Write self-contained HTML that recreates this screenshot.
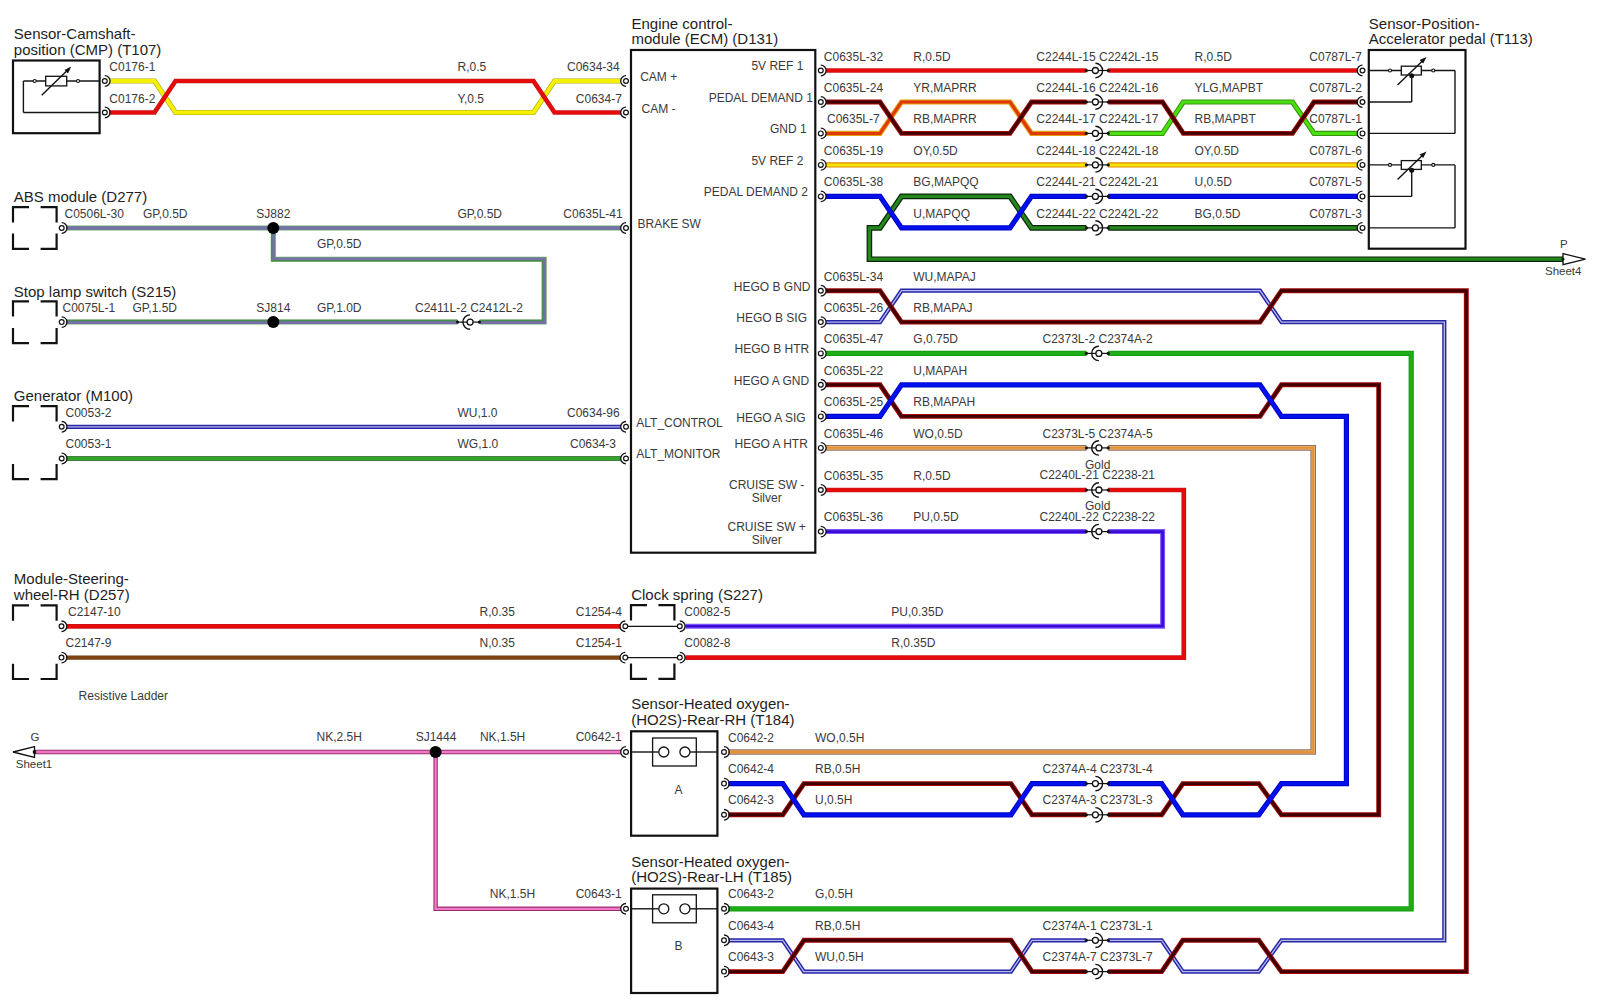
<!DOCTYPE html>
<html><head><meta charset="utf-8"><title>Wiring diagram</title>
<style>
html,body{margin:0;padding:0;background:#fff;}
body{width:1600px;height:1002px;overflow:hidden;}
svg{display:block;}
text{font-family:"Liberation Sans",sans-serif;}
</style></head>
<body>
<svg width="1600" height="1002" viewBox="0 0 1600 1002">
<rect width="1600" height="1002" fill="#fff"/>
<polyline points="109,81.0 154.5,81.0 175.5,112.5 533.5,112.5 554.5,81.0 621,81.0" fill="none" stroke="#a8a818" stroke-width="5.0" stroke-linejoin="miter" stroke-miterlimit="10"/>
<polyline points="109,81.0 154.5,81.0 175.5,112.5 533.5,112.5 554.5,81.0 621,81.0" fill="none" stroke="#f4f000" stroke-width="3.8" stroke-linejoin="miter" stroke-miterlimit="10"/>
<polyline points="109,112.5 154.5,112.5 175.5,81.0 533.5,81.0 554.5,112.5 621,112.5" fill="none" stroke="#c81418" stroke-width="4.7" stroke-linejoin="miter" stroke-miterlimit="10"/>
<polyline points="109,112.5 154.5,112.5 175.5,81.0 533.5,81.0 554.5,112.5 621,112.5" fill="none" stroke="#e80a0a" stroke-width="3.0" stroke-linejoin="miter" stroke-miterlimit="10"/>
<polyline points="66,228.0 621,228.0" fill="none" stroke="#6aaa6a" stroke-width="5.0" stroke-linejoin="miter" stroke-miterlimit="10"/>
<polyline points="66,228.0 621,228.0" fill="none" stroke="#7670aa" stroke-width="3.6" stroke-linejoin="miter" stroke-miterlimit="10"/>
<polyline points="273.3,228.0 273.3,259.2 544.2,259.2 544.2,322.1 479.6,322.1" fill="none" stroke="#6aaa6a" stroke-width="5.0" stroke-linejoin="miter" stroke-miterlimit="10"/>
<polyline points="273.3,228.0 273.3,259.2 544.2,259.2 544.2,322.1 479.6,322.1" fill="none" stroke="#7670aa" stroke-width="3.6" stroke-linejoin="miter" stroke-miterlimit="10"/>
<polyline points="271.70,228.00 271.70,260.80 542.60,260.80 542.60,320.50 479.60,320.50" fill="none" stroke="#4c8c4c" stroke-width="1.5" stroke-linejoin="miter"/>
<polyline points="66,322.1 457.6,322.1" fill="none" stroke="#6aaa6a" stroke-width="5.0" stroke-linejoin="miter" stroke-miterlimit="10"/>
<polyline points="66,322.1 457.6,322.1" fill="none" stroke="#7670aa" stroke-width="3.6" stroke-linejoin="miter" stroke-miterlimit="10"/>
<polyline points="457.60,320.50 66.00,320.50" fill="none" stroke="#4c8c4c" stroke-width="1.5" stroke-linejoin="miter"/>
<polyline points="66,426.8 621,426.8" fill="none" stroke="#2626a6" stroke-width="4.2" stroke-linejoin="miter" stroke-miterlimit="10"/>
<polyline points="66,426.8 621,426.8" fill="none" stroke="#b8b8ee" stroke-width="1.3" stroke-linejoin="miter" stroke-miterlimit="10"/>
<polyline points="66,458.5 621,458.5" fill="none" stroke="#4a7a4a" stroke-width="5.0" stroke-linejoin="miter" stroke-miterlimit="10"/>
<polyline points="66,458.5 621,458.5" fill="none" stroke="#30a626" stroke-width="3.2" stroke-linejoin="miter" stroke-miterlimit="10"/>
<polyline points="66,626.3 620,626.3" fill="none" stroke="#c81418" stroke-width="4.7" stroke-linejoin="miter" stroke-miterlimit="10"/>
<polyline points="66,626.3 620,626.3" fill="none" stroke="#e80a0a" stroke-width="3.0" stroke-linejoin="miter" stroke-miterlimit="10"/>
<polyline points="66,657.6 620,657.6" fill="none" stroke="#6e3a10" stroke-width="4.4" stroke-linejoin="miter" stroke-miterlimit="10"/>
<polyline points="66,657.6 620,657.6" fill="none" stroke="#7e4412" stroke-width="2.8" stroke-linejoin="miter" stroke-miterlimit="10"/>
<polyline points="685.5,626.3 1162.6,626.3 1162.6,531.6 1108.2,531.6" fill="none" stroke="#7c54f6" stroke-width="5.0" stroke-linejoin="miter" stroke-miterlimit="10"/>
<polyline points="685.5,626.3 1162.6,626.3 1162.6,531.6 1108.2,531.6" fill="none" stroke="#3a0ad8" stroke-width="2.6" stroke-linejoin="miter" stroke-miterlimit="10"/>
<polyline points="685.5,657.6 1183.8,657.6 1183.8,490.0 1108.2,490.0" fill="none" stroke="#c81418" stroke-width="4.7" stroke-linejoin="miter" stroke-miterlimit="10"/>
<polyline points="685.5,657.6 1183.8,657.6 1183.8,490.0 1108.2,490.0" fill="none" stroke="#e80a0a" stroke-width="3.0" stroke-linejoin="miter" stroke-miterlimit="10"/>
<polyline points="826,70.5 1086.4,70.5" fill="none" stroke="#c81418" stroke-width="4.7" stroke-linejoin="miter" stroke-miterlimit="10"/>
<polyline points="826,70.5 1086.4,70.5" fill="none" stroke="#e80a0a" stroke-width="3.0" stroke-linejoin="miter" stroke-miterlimit="10"/>
<polyline points="1108.2,70.5 1357.5,70.5" fill="none" stroke="#c81418" stroke-width="4.7" stroke-linejoin="miter" stroke-miterlimit="10"/>
<polyline points="1108.2,70.5 1357.5,70.5" fill="none" stroke="#e80a0a" stroke-width="3.0" stroke-linejoin="miter" stroke-miterlimit="10"/>
<polyline points="826,133.4 880.0,133.4 901.5,102.0 1010,102.0 1031.5,133.4 1086.4,133.4" fill="none" stroke="#e0a010" stroke-width="5.2" stroke-linejoin="miter" stroke-miterlimit="10"/>
<polyline points="826,133.4 880.0,133.4 901.5,102.0 1010,102.0 1031.5,133.4 1086.4,133.4" fill="none" stroke="#e03808" stroke-width="3.0" stroke-linejoin="miter" stroke-miterlimit="10"/>
<polyline points="1108.2,133.4 1162.5,133.4 1183.3,102.0 1292.5,102.0 1314,133.4 1357.5,133.4" fill="none" stroke="#3a9410" stroke-width="5.2" stroke-linejoin="miter" stroke-miterlimit="10"/>
<polyline points="1108.2,133.4 1162.5,133.4 1183.3,102.0 1292.5,102.0 1314,133.4 1357.5,133.4" fill="none" stroke="#48e010" stroke-width="3.0" stroke-linejoin="miter" stroke-miterlimit="10"/>
<polyline points="826,102.0 880.0,102.0 901.5,133.4 1010,133.4 1031.5,102.0 1086.4,102.0" fill="none" stroke="#a40808" stroke-width="4.9" stroke-linejoin="miter" stroke-miterlimit="10"/>
<polyline points="826,102.0 880.0,102.0 901.5,133.4 1010,133.4 1031.5,102.0 1086.4,102.0" fill="none" stroke="#400000" stroke-width="2.9" stroke-linejoin="miter" stroke-miterlimit="10"/>
<polyline points="1108.2,102.0 1162.5,102.0 1183.3,133.4 1292.5,133.4 1314,102.0 1357.5,102.0" fill="none" stroke="#a40808" stroke-width="4.9" stroke-linejoin="miter" stroke-miterlimit="10"/>
<polyline points="1108.2,102.0 1162.5,102.0 1183.3,133.4 1292.5,133.4 1314,102.0 1357.5,102.0" fill="none" stroke="#400000" stroke-width="2.9" stroke-linejoin="miter" stroke-miterlimit="10"/>
<polyline points="826,164.9 1086.4,164.9" fill="none" stroke="#e08a00" stroke-width="5.2" stroke-linejoin="miter" stroke-miterlimit="10"/>
<polyline points="826,164.9 1086.4,164.9" fill="none" stroke="#f8e400" stroke-width="3.0" stroke-linejoin="miter" stroke-miterlimit="10"/>
<polyline points="1108.2,164.9 1357.5,164.9" fill="none" stroke="#e08a00" stroke-width="5.2" stroke-linejoin="miter" stroke-miterlimit="10"/>
<polyline points="1108.2,164.9 1357.5,164.9" fill="none" stroke="#f8e400" stroke-width="3.0" stroke-linejoin="miter" stroke-miterlimit="10"/>
<polyline points="1564,259.2 869.4,259.2 869.4,227.9 880.0,227.9 901.5,196.4 1010,196.4 1031.5,227.9 1086.4,227.9" fill="none" stroke="#0c240c" stroke-width="5.6" stroke-linejoin="miter" stroke-miterlimit="10"/>
<polyline points="1564,259.2 869.4,259.2 869.4,227.9 880.0,227.9 901.5,196.4 1010,196.4 1031.5,227.9 1086.4,227.9" fill="none" stroke="#23881c" stroke-width="3.2" stroke-linejoin="miter" stroke-miterlimit="10"/>
<polyline points="1108.2,227.9 1357.5,227.9" fill="none" stroke="#0c240c" stroke-width="5.6" stroke-linejoin="miter" stroke-miterlimit="10"/>
<polyline points="1108.2,227.9 1357.5,227.9" fill="none" stroke="#23881c" stroke-width="3.2" stroke-linejoin="miter" stroke-miterlimit="10"/>
<polyline points="826,196.4 880.0,196.4 901.5,227.9 1010,227.9 1031.5,196.4 1086.4,196.4" fill="none" stroke="#0000c8" stroke-width="5.2" stroke-linejoin="miter" stroke-miterlimit="10"/>
<polyline points="826,196.4 880.0,196.4 901.5,227.9 1010,227.9 1031.5,196.4 1086.4,196.4" fill="none" stroke="#0010ec" stroke-width="3.4" stroke-linejoin="miter" stroke-miterlimit="10"/>
<polyline points="1108.2,196.4 1357.5,196.4" fill="none" stroke="#0000c8" stroke-width="5.2" stroke-linejoin="miter" stroke-miterlimit="10"/>
<polyline points="1108.2,196.4 1357.5,196.4" fill="none" stroke="#0010ec" stroke-width="3.4" stroke-linejoin="miter" stroke-miterlimit="10"/>
<polyline points="826,322.1 880.0,322.1 901.5,290.7 1260.0,290.7 1281.5,322.1 1444.3,322.1 1444.3,940.3 1281.4,940.3 1258.8,971.6 1182.8,971.6 1161.7,940.3 1108.2,940.3" fill="none" stroke="#2626a6" stroke-width="4.2" stroke-linejoin="miter" stroke-miterlimit="10"/>
<polyline points="826,322.1 880.0,322.1 901.5,290.7 1260.0,290.7 1281.5,322.1 1444.3,322.1 1444.3,940.3 1281.4,940.3 1258.8,971.6 1182.8,971.6 1161.7,940.3 1108.2,940.3" fill="none" stroke="#b8b8ee" stroke-width="1.3" stroke-linejoin="miter" stroke-miterlimit="10"/>
<polyline points="1086.4,940.3 1032,940.3 1011,971.6 803.9,971.6 782.8,940.3 728.5,940.3" fill="none" stroke="#2626a6" stroke-width="4.2" stroke-linejoin="miter" stroke-miterlimit="10"/>
<polyline points="1086.4,940.3 1032,940.3 1011,971.6 803.9,971.6 782.8,940.3 728.5,940.3" fill="none" stroke="#b8b8ee" stroke-width="1.3" stroke-linejoin="miter" stroke-miterlimit="10"/>
<polyline points="826,290.7 880.0,290.7 901.5,322.1 1260.0,322.1 1281.5,290.7 1466.3,290.7 1466.3,971.6 1281.4,971.6 1258.8,940.3 1182.8,940.3 1161.7,971.6 1108.2,971.6" fill="none" stroke="#a40808" stroke-width="4.9" stroke-linejoin="miter" stroke-miterlimit="10"/>
<polyline points="826,290.7 880.0,290.7 901.5,322.1 1260.0,322.1 1281.5,290.7 1466.3,290.7 1466.3,971.6 1281.4,971.6 1258.8,940.3 1182.8,940.3 1161.7,971.6 1108.2,971.6" fill="none" stroke="#400000" stroke-width="2.9" stroke-linejoin="miter" stroke-miterlimit="10"/>
<polyline points="1086.4,971.6 1032,971.6 1011,940.3 803.9,940.3 782.8,971.6 728.5,971.6" fill="none" stroke="#a40808" stroke-width="4.9" stroke-linejoin="miter" stroke-miterlimit="10"/>
<polyline points="1086.4,971.6 1032,971.6 1011,940.3 803.9,940.3 782.8,971.6 728.5,971.6" fill="none" stroke="#400000" stroke-width="2.9" stroke-linejoin="miter" stroke-miterlimit="10"/>
<polyline points="826,353.4 1086.4,353.4" fill="none" stroke="#149c14" stroke-width="5.2" stroke-linejoin="miter" stroke-miterlimit="10"/>
<polyline points="826,353.4 1086.4,353.4" fill="none" stroke="#1cae14" stroke-width="3.4" stroke-linejoin="miter" stroke-miterlimit="10"/>
<polyline points="1108.2,353.4 1411.2,353.4 1411.2,908.8 728.5,908.8" fill="none" stroke="#149c14" stroke-width="5.2" stroke-linejoin="miter" stroke-miterlimit="10"/>
<polyline points="1108.2,353.4 1411.2,353.4 1411.2,908.8 728.5,908.8" fill="none" stroke="#1cae14" stroke-width="3.4" stroke-linejoin="miter" stroke-miterlimit="10"/>
<polyline points="826,384.8 880.0,384.8 901.5,416.4 1260.0,416.4 1281.5,384.8 1378.7,384.8 1378.7,814.8 1281.4,814.8 1258.8,783.6 1182.8,783.6 1161.7,814.8 1108.2,814.8" fill="none" stroke="#a40808" stroke-width="4.9" stroke-linejoin="miter" stroke-miterlimit="10"/>
<polyline points="826,384.8 880.0,384.8 901.5,416.4 1260.0,416.4 1281.5,384.8 1378.7,384.8 1378.7,814.8 1281.4,814.8 1258.8,783.6 1182.8,783.6 1161.7,814.8 1108.2,814.8" fill="none" stroke="#400000" stroke-width="2.9" stroke-linejoin="miter" stroke-miterlimit="10"/>
<polyline points="1086.4,814.8 1032,814.8 1011,783.6 803.9,783.6 782.8,814.8 728.5,814.8" fill="none" stroke="#a40808" stroke-width="4.9" stroke-linejoin="miter" stroke-miterlimit="10"/>
<polyline points="1086.4,814.8 1032,814.8 1011,783.6 803.9,783.6 782.8,814.8 728.5,814.8" fill="none" stroke="#400000" stroke-width="2.9" stroke-linejoin="miter" stroke-miterlimit="10"/>
<polyline points="826,416.4 880.0,416.4 901.5,384.8 1260.0,384.8 1281.5,416.4 1346.4,416.4 1346.4,783.6 1281.4,783.6 1258.8,814.8 1182.8,814.8 1161.7,783.6 1108.2,783.6" fill="none" stroke="#0000c8" stroke-width="5.2" stroke-linejoin="miter" stroke-miterlimit="10"/>
<polyline points="826,416.4 880.0,416.4 901.5,384.8 1260.0,384.8 1281.5,416.4 1346.4,416.4 1346.4,783.6 1281.4,783.6 1258.8,814.8 1182.8,814.8 1161.7,783.6 1108.2,783.6" fill="none" stroke="#0010ec" stroke-width="3.4" stroke-linejoin="miter" stroke-miterlimit="10"/>
<polyline points="1086.4,783.6 1032,783.6 1011,814.8 803.9,814.8 782.8,783.6 728.5,783.6" fill="none" stroke="#0000c8" stroke-width="5.2" stroke-linejoin="miter" stroke-miterlimit="10"/>
<polyline points="1086.4,783.6 1032,783.6 1011,814.8 803.9,814.8 782.8,783.6 728.5,783.6" fill="none" stroke="#0010ec" stroke-width="3.4" stroke-linejoin="miter" stroke-miterlimit="10"/>
<polyline points="826,447.9 1086.4,447.9" fill="none" stroke="#8a7262" stroke-width="5.6" stroke-linejoin="miter" stroke-miterlimit="10"/>
<polyline points="826,447.9 1086.4,447.9" fill="none" stroke="#f0aa60" stroke-width="3.6" stroke-linejoin="miter" stroke-miterlimit="10"/>
<polyline points="826,447.9 1086.4,447.9" fill="none" stroke="#dc8a2c" stroke-width="1.4" stroke-linejoin="miter" stroke-miterlimit="10"/>
<polyline points="1108.2,447.9 1313.2,447.9 1313.2,752.0 728.5,752.0" fill="none" stroke="#8a7262" stroke-width="5.6" stroke-linejoin="miter" stroke-miterlimit="10"/>
<polyline points="1108.2,447.9 1313.2,447.9 1313.2,752.0 728.5,752.0" fill="none" stroke="#f0aa60" stroke-width="3.6" stroke-linejoin="miter" stroke-miterlimit="10"/>
<polyline points="1108.2,447.9 1313.2,447.9 1313.2,752.0 728.5,752.0" fill="none" stroke="#dc8a2c" stroke-width="1.4" stroke-linejoin="miter" stroke-miterlimit="10"/>
<polyline points="826,490.0 1086.4,490.0" fill="none" stroke="#c81418" stroke-width="4.7" stroke-linejoin="miter" stroke-miterlimit="10"/>
<polyline points="826,490.0 1086.4,490.0" fill="none" stroke="#e80a0a" stroke-width="3.0" stroke-linejoin="miter" stroke-miterlimit="10"/>
<polyline points="826,531.6 1086.4,531.6" fill="none" stroke="#7c54f6" stroke-width="5.0" stroke-linejoin="miter" stroke-miterlimit="10"/>
<polyline points="826,531.6 1086.4,531.6" fill="none" stroke="#3a0ad8" stroke-width="2.6" stroke-linejoin="miter" stroke-miterlimit="10"/>
<polyline points="35,752.0 621,752.0" fill="none" stroke="#98306c" stroke-width="4.4" stroke-linejoin="miter" stroke-miterlimit="10"/>
<polyline points="35,752.0 621,752.0" fill="none" stroke="#f07ac8" stroke-width="2.3" stroke-linejoin="miter" stroke-miterlimit="10"/>
<polyline points="435.6,752.0 435.6,908.8 621,908.8" fill="none" stroke="#98306c" stroke-width="4.4" stroke-linejoin="miter" stroke-miterlimit="10"/>
<polyline points="435.6,752.0 435.6,908.8 621,908.8" fill="none" stroke="#f07ac8" stroke-width="2.3" stroke-linejoin="miter" stroke-miterlimit="10"/>
<rect x="13" y="60.5" width="86.6" height="72.69999999999999" fill="none" stroke="#111" stroke-width="2.2"/>
<line x1="23.4" y1="81.0" x2="99" y2="81.0" stroke="#151515" stroke-width="1.4"/>
<line x1="23.4" y1="81.0" x2="23.4" y2="112.5" stroke="#151515" stroke-width="1.4"/>
<line x1="23.4" y1="112.5" x2="99" y2="112.5" stroke="#151515" stroke-width="1.4"/>
<rect x="45.7" y="76.3" width="21" height="9.6" fill="#fff" stroke="#111" stroke-width="1.3"/>
<circle cx="34.7" cy="81" r="1.5" fill="#fff" stroke="#111" stroke-width="1.1"/>
<circle cx="78" cy="81" r="1.5" fill="#fff" stroke="#111" stroke-width="1.1"/>
<line x1="41.7" y1="95.2" x2="69.5" y2="68.2" stroke="#111" stroke-width="1.4"/>
<path d="M71.2,66.5 L64.5,70 L68,73.6 Z" fill="#111"/>
<circle cx="104.8" cy="81.0" r="2.4" fill="#fff" stroke="#111" stroke-width="1.2"/>
<path d="M104.8,75.7 A5.3,5.3 0 0 1 104.8,86.3" fill="none" stroke="#111" stroke-width="1.3"/>
<circle cx="104.8" cy="112.5" r="2.4" fill="#fff" stroke="#111" stroke-width="1.2"/>
<path d="M104.8,107.2 A5.3,5.3 0 0 1 104.8,117.8" fill="none" stroke="#111" stroke-width="1.3"/>
<rect x="631" y="50" width="184.29999999999995" height="502.70000000000005" fill="none" stroke="#111" stroke-width="2.2"/>
<circle cx="626" cy="81.0" r="2.4" fill="#fff" stroke="#111" stroke-width="1.2"/>
<path d="M626,75.7 A5.3,5.3 0 0 0 626,86.3" fill="none" stroke="#111" stroke-width="1.3"/>
<circle cx="626" cy="112.5" r="2.4" fill="#fff" stroke="#111" stroke-width="1.2"/>
<path d="M626,107.2 A5.3,5.3 0 0 0 626,117.8" fill="none" stroke="#111" stroke-width="1.3"/>
<circle cx="626" cy="228.0" r="2.4" fill="#fff" stroke="#111" stroke-width="1.2"/>
<path d="M626,222.7 A5.3,5.3 0 0 0 626,233.3" fill="none" stroke="#111" stroke-width="1.3"/>
<circle cx="626" cy="426.8" r="2.4" fill="#fff" stroke="#111" stroke-width="1.2"/>
<path d="M626,421.5 A5.3,5.3 0 0 0 626,432.1" fill="none" stroke="#111" stroke-width="1.3"/>
<circle cx="626" cy="458.5" r="2.4" fill="#fff" stroke="#111" stroke-width="1.2"/>
<path d="M626,453.2 A5.3,5.3 0 0 0 626,463.8" fill="none" stroke="#111" stroke-width="1.3"/>
<circle cx="820.8" cy="70.5" r="2.4" fill="#fff" stroke="#111" stroke-width="1.2"/>
<path d="M820.8,65.2 A5.3,5.3 0 0 1 820.8,75.8" fill="none" stroke="#111" stroke-width="1.3"/>
<circle cx="820.8" cy="102.0" r="2.4" fill="#fff" stroke="#111" stroke-width="1.2"/>
<path d="M820.8,96.7 A5.3,5.3 0 0 1 820.8,107.3" fill="none" stroke="#111" stroke-width="1.3"/>
<circle cx="820.8" cy="133.4" r="2.4" fill="#fff" stroke="#111" stroke-width="1.2"/>
<path d="M820.8,128.1 A5.3,5.3 0 0 1 820.8,138.70000000000002" fill="none" stroke="#111" stroke-width="1.3"/>
<circle cx="820.8" cy="164.9" r="2.4" fill="#fff" stroke="#111" stroke-width="1.2"/>
<path d="M820.8,159.6 A5.3,5.3 0 0 1 820.8,170.20000000000002" fill="none" stroke="#111" stroke-width="1.3"/>
<circle cx="820.8" cy="196.4" r="2.4" fill="#fff" stroke="#111" stroke-width="1.2"/>
<path d="M820.8,191.1 A5.3,5.3 0 0 1 820.8,201.70000000000002" fill="none" stroke="#111" stroke-width="1.3"/>
<circle cx="820.8" cy="290.7" r="2.4" fill="#fff" stroke="#111" stroke-width="1.2"/>
<path d="M820.8,285.4 A5.3,5.3 0 0 1 820.8,296.0" fill="none" stroke="#111" stroke-width="1.3"/>
<circle cx="820.8" cy="322.1" r="2.4" fill="#fff" stroke="#111" stroke-width="1.2"/>
<path d="M820.8,316.8 A5.3,5.3 0 0 1 820.8,327.40000000000003" fill="none" stroke="#111" stroke-width="1.3"/>
<circle cx="820.8" cy="353.4" r="2.4" fill="#fff" stroke="#111" stroke-width="1.2"/>
<path d="M820.8,348.09999999999997 A5.3,5.3 0 0 1 820.8,358.7" fill="none" stroke="#111" stroke-width="1.3"/>
<circle cx="820.8" cy="384.8" r="2.4" fill="#fff" stroke="#111" stroke-width="1.2"/>
<path d="M820.8,379.5 A5.3,5.3 0 0 1 820.8,390.1" fill="none" stroke="#111" stroke-width="1.3"/>
<circle cx="820.8" cy="416.4" r="2.4" fill="#fff" stroke="#111" stroke-width="1.2"/>
<path d="M820.8,411.09999999999997 A5.3,5.3 0 0 1 820.8,421.7" fill="none" stroke="#111" stroke-width="1.3"/>
<circle cx="820.8" cy="447.9" r="2.4" fill="#fff" stroke="#111" stroke-width="1.2"/>
<path d="M820.8,442.59999999999997 A5.3,5.3 0 0 1 820.8,453.2" fill="none" stroke="#111" stroke-width="1.3"/>
<circle cx="820.8" cy="490.0" r="2.4" fill="#fff" stroke="#111" stroke-width="1.2"/>
<path d="M820.8,484.7 A5.3,5.3 0 0 1 820.8,495.3" fill="none" stroke="#111" stroke-width="1.3"/>
<circle cx="820.8" cy="531.6" r="2.4" fill="#fff" stroke="#111" stroke-width="1.2"/>
<path d="M820.8,526.3000000000001 A5.3,5.3 0 0 1 820.8,536.9" fill="none" stroke="#111" stroke-width="1.3"/>
<rect x="1368.8" y="50" width="96.70000000000005" height="198.7" fill="none" stroke="#111" stroke-width="2.2"/>
<circle cx="1362.5" cy="70.5" r="2.4" fill="#fff" stroke="#111" stroke-width="1.2"/>
<path d="M1362.5,65.2 A5.3,5.3 0 0 0 1362.5,75.8" fill="none" stroke="#111" stroke-width="1.3"/>
<circle cx="1362.5" cy="102.0" r="2.4" fill="#fff" stroke="#111" stroke-width="1.2"/>
<path d="M1362.5,96.7 A5.3,5.3 0 0 0 1362.5,107.3" fill="none" stroke="#111" stroke-width="1.3"/>
<circle cx="1362.5" cy="133.4" r="2.4" fill="#fff" stroke="#111" stroke-width="1.2"/>
<path d="M1362.5,128.1 A5.3,5.3 0 0 0 1362.5,138.70000000000002" fill="none" stroke="#111" stroke-width="1.3"/>
<circle cx="1362.5" cy="164.9" r="2.4" fill="#fff" stroke="#111" stroke-width="1.2"/>
<path d="M1362.5,159.6 A5.3,5.3 0 0 0 1362.5,170.20000000000002" fill="none" stroke="#111" stroke-width="1.3"/>
<circle cx="1362.5" cy="196.4" r="2.4" fill="#fff" stroke="#111" stroke-width="1.2"/>
<path d="M1362.5,191.1 A5.3,5.3 0 0 0 1362.5,201.70000000000002" fill="none" stroke="#111" stroke-width="1.3"/>
<circle cx="1362.5" cy="227.9" r="2.4" fill="#fff" stroke="#111" stroke-width="1.2"/>
<path d="M1362.5,222.6 A5.3,5.3 0 0 0 1362.5,233.20000000000002" fill="none" stroke="#111" stroke-width="1.3"/>
<line x1="1369" y1="70.5" x2="1455" y2="70.5" stroke="#151515" stroke-width="1.4"/>
<line x1="1455" y1="70.5" x2="1455" y2="133.4" stroke="#151515" stroke-width="1.4"/>
<line x1="1369" y1="133.4" x2="1455" y2="133.4" stroke="#151515" stroke-width="1.4"/>
<line x1="1411.7" y1="75.7" x2="1411.7" y2="102.0" stroke="#151515" stroke-width="1.4"/>
<line x1="1369" y1="102.0" x2="1411.7" y2="102.0" stroke="#151515" stroke-width="1.4"/>
<rect x="1401.3" y="66.2" width="20" height="8.8" fill="#fff" stroke="#111" stroke-width="1.3"/>
<circle cx="1390" cy="70.5" r="1.5" fill="#fff" stroke="#111" stroke-width="1.1"/>
<circle cx="1433.3" cy="70.5" r="1.5" fill="#fff" stroke="#111" stroke-width="1.1"/>
<circle cx="1411.7" cy="75.8" r="2.5" fill="#111"/>
<line x1="1397.5" y1="85.0" x2="1424.5" y2="59.0" stroke="#111" stroke-width="1.4"/>
<path d="M1426.5,57.0 L1419.6,60.0 L1423.2,63.5 Z" fill="#111"/>
<line x1="1369" y1="164.9" x2="1455" y2="164.9" stroke="#151515" stroke-width="1.4"/>
<line x1="1455" y1="164.9" x2="1455" y2="227.9" stroke="#151515" stroke-width="1.4"/>
<line x1="1369" y1="227.9" x2="1455" y2="227.9" stroke="#151515" stroke-width="1.4"/>
<line x1="1411.7" y1="170.1" x2="1411.7" y2="196.4" stroke="#151515" stroke-width="1.4"/>
<line x1="1369" y1="196.4" x2="1411.7" y2="196.4" stroke="#151515" stroke-width="1.4"/>
<rect x="1401.3" y="160.6" width="20" height="8.8" fill="#fff" stroke="#111" stroke-width="1.3"/>
<circle cx="1390" cy="164.9" r="1.5" fill="#fff" stroke="#111" stroke-width="1.1"/>
<circle cx="1433.3" cy="164.9" r="1.5" fill="#fff" stroke="#111" stroke-width="1.1"/>
<circle cx="1411.7" cy="170.20000000000002" r="2.5" fill="#111"/>
<line x1="1397.5" y1="179.4" x2="1424.5" y2="153.4" stroke="#111" stroke-width="1.4"/>
<path d="M1426.5,151.4 L1419.6,154.4 L1423.2,157.9 Z" fill="#111"/>
<path d="M29,207.2 L13,207.2 L13,222.5 M40.6,207.2 L56.6,207.2 L56.6,222.5 M29,248.8 L13,248.8 L13,233.5 M40.6,248.8 L56.6,248.8 L56.6,233.5" fill="none" stroke="#111" stroke-width="2.2"/>
<circle cx="61.7" cy="228.0" r="2.4" fill="#fff" stroke="#111" stroke-width="1.2"/>
<path d="M61.7,222.7 A5.3,5.3 0 0 1 61.7,233.3" fill="none" stroke="#111" stroke-width="1.3"/>
<path d="M29,301.3 L13,301.3 L13,316.6 M40.6,301.3 L56.6,301.3 L56.6,316.6 M29,343.2 L13,343.2 L13,327.9 M40.6,343.2 L56.6,343.2 L56.6,327.9" fill="none" stroke="#111" stroke-width="2.2"/>
<circle cx="61.7" cy="322.1" r="2.4" fill="#fff" stroke="#111" stroke-width="1.2"/>
<path d="M61.7,316.8 A5.3,5.3 0 0 1 61.7,327.40000000000003" fill="none" stroke="#111" stroke-width="1.3"/>
<path d="M29,406.2 L13,406.2 L13,421.5 M40.6,406.2 L56.6,406.2 L56.6,421.5 M29,479.2 L13,479.2 L13,463.9 M40.6,479.2 L56.6,479.2 L56.6,463.9" fill="none" stroke="#111" stroke-width="2.2"/>
<circle cx="61.7" cy="426.8" r="2.4" fill="#fff" stroke="#111" stroke-width="1.2"/>
<path d="M61.7,421.5 A5.3,5.3 0 0 1 61.7,432.1" fill="none" stroke="#111" stroke-width="1.3"/>
<circle cx="61.7" cy="458.5" r="2.4" fill="#fff" stroke="#111" stroke-width="1.2"/>
<path d="M61.7,453.2 A5.3,5.3 0 0 1 61.7,463.8" fill="none" stroke="#111" stroke-width="1.3"/>
<path d="M29,605.4 L13,605.4 L13,620.6999999999999 M40.6,605.4 L56.6,605.4 L56.6,620.6999999999999 M29,679 L13,679 L13,663.7 M40.6,679 L56.6,679 L56.6,663.7" fill="none" stroke="#111" stroke-width="2.2"/>
<circle cx="61.5" cy="626.3" r="2.4" fill="#fff" stroke="#111" stroke-width="1.2"/>
<path d="M61.5,621.0 A5.3,5.3 0 0 1 61.5,631.5999999999999" fill="none" stroke="#111" stroke-width="1.3"/>
<circle cx="61.5" cy="657.6" r="2.4" fill="#fff" stroke="#111" stroke-width="1.2"/>
<path d="M61.5,652.3000000000001 A5.3,5.3 0 0 1 61.5,662.9" fill="none" stroke="#111" stroke-width="1.3"/>
<path d="M647,605.2 L631,605.2 L631,620.5 M658.4,605.2 L674.4,605.2 L674.4,620.5 M647,678.8 L631,678.8 L631,663.5 M658.4,678.8 L674.4,678.8 L674.4,663.5" fill="none" stroke="#111" stroke-width="2.2"/>
<line x1="627.5" y1="626.3" x2="678.5" y2="626.3" stroke="#151515" stroke-width="1.2"/>
<circle cx="625.3" cy="626.3" r="2.4" fill="#fff" stroke="#111" stroke-width="1.2"/>
<path d="M625.3,621.0 A5.3,5.3 0 0 0 625.3,631.5999999999999" fill="none" stroke="#111" stroke-width="1.3"/>
<circle cx="679.8" cy="626.3" r="2.4" fill="#fff" stroke="#111" stroke-width="1.2"/>
<path d="M679.8,621.0 A5.3,5.3 0 0 1 679.8,631.5999999999999" fill="none" stroke="#111" stroke-width="1.3"/>
<line x1="627.5" y1="657.6" x2="678.5" y2="657.6" stroke="#151515" stroke-width="1.2"/>
<circle cx="625.3" cy="657.6" r="2.4" fill="#fff" stroke="#111" stroke-width="1.2"/>
<path d="M625.3,652.3000000000001 A5.3,5.3 0 0 0 625.3,662.9" fill="none" stroke="#111" stroke-width="1.3"/>
<circle cx="679.8" cy="657.6" r="2.4" fill="#fff" stroke="#111" stroke-width="1.2"/>
<path d="M679.8,652.3000000000001 A5.3,5.3 0 0 1 679.8,662.9" fill="none" stroke="#111" stroke-width="1.3"/>
<circle cx="273.3" cy="228.0" r="6.0" fill="#000"/>
<circle cx="273.3" cy="322.1" r="6.0" fill="#000"/>
<circle cx="435.6" cy="752.0" r="6.0" fill="#000"/>
<line x1="1086.4" y1="70.5" x2="1108.2" y2="70.5" stroke="#111" stroke-width="1.2"/>
<circle cx="1086.4" cy="70.5" r="1.6" fill="#111"/>
<circle cx="1108.2" cy="70.5" r="1.6" fill="#111"/>
<circle cx="1095.4" cy="70.5" r="3.0" fill="#fff" stroke="#111" stroke-width="1.3"/>
<path d="M1095.4,63.3 A7.2,7.2 0 0 1 1095.4,77.7" fill="none" stroke="#111" stroke-width="1.4"/>
<line x1="1086.4" y1="102.0" x2="1108.2" y2="102.0" stroke="#111" stroke-width="1.2"/>
<circle cx="1086.4" cy="102.0" r="1.6" fill="#111"/>
<circle cx="1108.2" cy="102.0" r="1.6" fill="#111"/>
<circle cx="1095.4" cy="102.0" r="3.0" fill="#fff" stroke="#111" stroke-width="1.3"/>
<path d="M1095.4,94.8 A7.2,7.2 0 0 1 1095.4,109.2" fill="none" stroke="#111" stroke-width="1.4"/>
<line x1="1086.4" y1="133.4" x2="1108.2" y2="133.4" stroke="#111" stroke-width="1.2"/>
<circle cx="1086.4" cy="133.4" r="1.6" fill="#111"/>
<circle cx="1108.2" cy="133.4" r="1.6" fill="#111"/>
<circle cx="1095.4" cy="133.4" r="3.0" fill="#fff" stroke="#111" stroke-width="1.3"/>
<path d="M1095.4,126.2 A7.2,7.2 0 0 1 1095.4,140.6" fill="none" stroke="#111" stroke-width="1.4"/>
<line x1="1086.4" y1="164.9" x2="1108.2" y2="164.9" stroke="#111" stroke-width="1.2"/>
<circle cx="1086.4" cy="164.9" r="1.6" fill="#111"/>
<circle cx="1108.2" cy="164.9" r="1.6" fill="#111"/>
<circle cx="1095.4" cy="164.9" r="3.0" fill="#fff" stroke="#111" stroke-width="1.3"/>
<path d="M1095.4,157.70000000000002 A7.2,7.2 0 0 1 1095.4,172.1" fill="none" stroke="#111" stroke-width="1.4"/>
<line x1="1086.4" y1="196.4" x2="1108.2" y2="196.4" stroke="#111" stroke-width="1.2"/>
<circle cx="1086.4" cy="196.4" r="1.6" fill="#111"/>
<circle cx="1108.2" cy="196.4" r="1.6" fill="#111"/>
<circle cx="1095.4" cy="196.4" r="3.0" fill="#fff" stroke="#111" stroke-width="1.3"/>
<path d="M1095.4,189.20000000000002 A7.2,7.2 0 0 1 1095.4,203.6" fill="none" stroke="#111" stroke-width="1.4"/>
<line x1="1086.4" y1="227.9" x2="1108.2" y2="227.9" stroke="#111" stroke-width="1.2"/>
<circle cx="1086.4" cy="227.9" r="1.6" fill="#111"/>
<circle cx="1108.2" cy="227.9" r="1.6" fill="#111"/>
<circle cx="1095.4" cy="227.9" r="3.0" fill="#fff" stroke="#111" stroke-width="1.3"/>
<path d="M1095.4,220.70000000000002 A7.2,7.2 0 0 1 1095.4,235.1" fill="none" stroke="#111" stroke-width="1.4"/>
<line x1="457.6" y1="322.1" x2="479.40000000000003" y2="322.1" stroke="#111" stroke-width="1.2"/>
<circle cx="457.6" cy="322.1" r="1.6" fill="#111"/>
<circle cx="479.40000000000003" cy="322.1" r="1.6" fill="#111"/>
<circle cx="470.1" cy="322.1" r="3.0" fill="#fff" stroke="#111" stroke-width="1.3"/>
<path d="M470.1,314.90000000000003 A7.2,7.2 0 0 0 470.1,329.3" fill="none" stroke="#111" stroke-width="1.4"/>
<line x1="1086.4" y1="353.4" x2="1108.2" y2="353.4" stroke="#111" stroke-width="1.2"/>
<circle cx="1086.4" cy="353.4" r="1.6" fill="#111"/>
<circle cx="1108.2" cy="353.4" r="1.6" fill="#111"/>
<circle cx="1098.9" cy="353.4" r="3.0" fill="#fff" stroke="#111" stroke-width="1.3"/>
<path d="M1098.9,346.2 A7.2,7.2 0 0 0 1098.9,360.59999999999997" fill="none" stroke="#111" stroke-width="1.4"/>
<line x1="1086.4" y1="447.9" x2="1108.2" y2="447.9" stroke="#111" stroke-width="1.2"/>
<circle cx="1086.4" cy="447.9" r="1.6" fill="#111"/>
<circle cx="1108.2" cy="447.9" r="1.6" fill="#111"/>
<circle cx="1098.9" cy="447.9" r="3.0" fill="#fff" stroke="#111" stroke-width="1.3"/>
<path d="M1098.9,440.7 A7.2,7.2 0 0 0 1098.9,455.09999999999997" fill="none" stroke="#111" stroke-width="1.4"/>
<line x1="1086.4" y1="490.0" x2="1108.2" y2="490.0" stroke="#111" stroke-width="1.2"/>
<circle cx="1086.4" cy="490.0" r="1.6" fill="#111"/>
<circle cx="1108.2" cy="490.0" r="1.6" fill="#111"/>
<circle cx="1098.9" cy="490.0" r="3.0" fill="#fff" stroke="#111" stroke-width="1.3"/>
<path d="M1098.9,482.8 A7.2,7.2 0 0 0 1098.9,497.2" fill="none" stroke="#111" stroke-width="1.4"/>
<line x1="1086.4" y1="531.6" x2="1108.2" y2="531.6" stroke="#111" stroke-width="1.2"/>
<circle cx="1086.4" cy="531.6" r="1.6" fill="#111"/>
<circle cx="1108.2" cy="531.6" r="1.6" fill="#111"/>
<circle cx="1098.9" cy="531.6" r="3.0" fill="#fff" stroke="#111" stroke-width="1.3"/>
<path d="M1098.9,524.4 A7.2,7.2 0 0 0 1098.9,538.8000000000001" fill="none" stroke="#111" stroke-width="1.4"/>
<line x1="1086.4" y1="783.6" x2="1108.2" y2="783.6" stroke="#111" stroke-width="1.2"/>
<circle cx="1086.4" cy="783.6" r="1.6" fill="#111"/>
<circle cx="1108.2" cy="783.6" r="1.6" fill="#111"/>
<circle cx="1095.4" cy="783.6" r="3.0" fill="#fff" stroke="#111" stroke-width="1.3"/>
<path d="M1095.4,776.4 A7.2,7.2 0 0 1 1095.4,790.8000000000001" fill="none" stroke="#111" stroke-width="1.4"/>
<line x1="1086.4" y1="814.8" x2="1108.2" y2="814.8" stroke="#111" stroke-width="1.2"/>
<circle cx="1086.4" cy="814.8" r="1.6" fill="#111"/>
<circle cx="1108.2" cy="814.8" r="1.6" fill="#111"/>
<circle cx="1095.4" cy="814.8" r="3.0" fill="#fff" stroke="#111" stroke-width="1.3"/>
<path d="M1095.4,807.5999999999999 A7.2,7.2 0 0 1 1095.4,822.0" fill="none" stroke="#111" stroke-width="1.4"/>
<line x1="1086.4" y1="940.3" x2="1108.2" y2="940.3" stroke="#111" stroke-width="1.2"/>
<circle cx="1086.4" cy="940.3" r="1.6" fill="#111"/>
<circle cx="1108.2" cy="940.3" r="1.6" fill="#111"/>
<circle cx="1095.4" cy="940.3" r="3.0" fill="#fff" stroke="#111" stroke-width="1.3"/>
<path d="M1095.4,933.0999999999999 A7.2,7.2 0 0 1 1095.4,947.5" fill="none" stroke="#111" stroke-width="1.4"/>
<line x1="1086.4" y1="971.6" x2="1108.2" y2="971.6" stroke="#111" stroke-width="1.2"/>
<circle cx="1086.4" cy="971.6" r="1.6" fill="#111"/>
<circle cx="1108.2" cy="971.6" r="1.6" fill="#111"/>
<circle cx="1095.4" cy="971.6" r="3.0" fill="#fff" stroke="#111" stroke-width="1.3"/>
<path d="M1095.4,964.4 A7.2,7.2 0 0 1 1095.4,978.8000000000001" fill="none" stroke="#111" stroke-width="1.4"/>
<rect x="631.1" y="731.3" width="86.29999999999995" height="104.39999999999998" fill="none" stroke="#111" stroke-width="2.2"/>
<line x1="631.2" y1="752.0" x2="658.6" y2="752.0" stroke="#151515" stroke-width="1.4"/>
<line x1="690.1" y1="752.0" x2="717.4" y2="752.0" stroke="#151515" stroke-width="1.4"/>
<rect x="652.6" y="738.0" width="43.7" height="28" fill="none" stroke="#111" stroke-width="1.3"/>
<circle cx="663.8" cy="752.0" r="5" fill="#fff" stroke="#111" stroke-width="1.3"/>
<circle cx="684.9" cy="752.0" r="5" fill="#fff" stroke="#111" stroke-width="1.3"/>
<text x="678.4" y="793.6" font-size="12" fill="#3a3a3a" text-anchor="middle">A</text>
<circle cx="626" cy="752.0" r="2.4" fill="#fff" stroke="#111" stroke-width="1.2"/>
<path d="M626,746.7 A5.3,5.3 0 0 0 626,757.3" fill="none" stroke="#111" stroke-width="1.3"/>
<circle cx="724" cy="752.0" r="2.4" fill="#fff" stroke="#111" stroke-width="1.2"/>
<path d="M724,746.7 A5.3,5.3 0 0 1 724,757.3" fill="none" stroke="#111" stroke-width="1.3"/>
<circle cx="724" cy="783.6" r="2.4" fill="#fff" stroke="#111" stroke-width="1.2"/>
<path d="M724,778.3000000000001 A5.3,5.3 0 0 1 724,788.9" fill="none" stroke="#111" stroke-width="1.3"/>
<circle cx="724" cy="814.8" r="2.4" fill="#fff" stroke="#111" stroke-width="1.2"/>
<path d="M724,809.5 A5.3,5.3 0 0 1 724,820.0999999999999" fill="none" stroke="#111" stroke-width="1.3"/>
<rect x="631.1" y="888.6" width="86.29999999999995" height="104.39999999999998" fill="none" stroke="#111" stroke-width="2.2"/>
<line x1="631.2" y1="908.8" x2="658.6" y2="908.8" stroke="#151515" stroke-width="1.4"/>
<line x1="690.1" y1="908.8" x2="717.4" y2="908.8" stroke="#151515" stroke-width="1.4"/>
<rect x="652.6" y="894.8" width="43.7" height="28" fill="none" stroke="#111" stroke-width="1.3"/>
<circle cx="663.8" cy="908.8" r="5" fill="#fff" stroke="#111" stroke-width="1.3"/>
<circle cx="684.9" cy="908.8" r="5" fill="#fff" stroke="#111" stroke-width="1.3"/>
<text x="678.4" y="950.4" font-size="12" fill="#3a3a3a" text-anchor="middle">B</text>
<circle cx="626" cy="908.8" r="2.4" fill="#fff" stroke="#111" stroke-width="1.2"/>
<path d="M626,903.5 A5.3,5.3 0 0 0 626,914.0999999999999" fill="none" stroke="#111" stroke-width="1.3"/>
<circle cx="724" cy="908.8" r="2.4" fill="#fff" stroke="#111" stroke-width="1.2"/>
<path d="M724,903.5 A5.3,5.3 0 0 1 724,914.0999999999999" fill="none" stroke="#111" stroke-width="1.3"/>
<circle cx="724" cy="940.3" r="2.4" fill="#fff" stroke="#111" stroke-width="1.2"/>
<path d="M724,935.0 A5.3,5.3 0 0 1 724,945.5999999999999" fill="none" stroke="#111" stroke-width="1.3"/>
<circle cx="724" cy="971.6" r="2.4" fill="#fff" stroke="#111" stroke-width="1.2"/>
<path d="M724,966.3000000000001 A5.3,5.3 0 0 1 724,976.9" fill="none" stroke="#111" stroke-width="1.3"/>
<path d="M34.5,746.6 L13,752.0 L34.5,757.4 Z" fill="#fff" stroke="#111" stroke-width="1.3"/>
<circle cx="34.5" cy="752.0" r="1.9" fill="#111"/>
<path d="M1563,253.7 L1585.5,259.2 L1563,264.7 Z" fill="#fff" stroke="#111" stroke-width="1.3"/>
<circle cx="1563" cy="259.2" r="1.4" fill="#111"/>
<text x="13.8" y="39.0" font-size="15" fill="#1e1e1e">Sensor-Camshaft-</text>
<text x="13.8" y="54.5" font-size="15" fill="#1e1e1e">position (CMP) (T107)</text>
<text x="631.5" y="28.5" font-size="15" fill="#1e1e1e">Engine control-</text>
<text x="631.5" y="44.0" font-size="15" fill="#1e1e1e">module (ECM) (D131)</text>
<text x="1368.8" y="28.5" font-size="15" fill="#1e1e1e">Sensor-Position-</text>
<text x="1368.8" y="44.0" font-size="15" fill="#1e1e1e">Accelerator pedal (T113)</text>
<text x="13.8" y="201.5" font-size="15" fill="#1e1e1e">ABS module (D277)</text>
<text x="13.8" y="296.5" font-size="15" fill="#1e1e1e">Stop lamp switch (S215)</text>
<text x="13.8" y="400.5" font-size="15" fill="#1e1e1e">Generator (M100)</text>
<text x="13.8" y="584.0" font-size="15" fill="#1e1e1e">Module-Steering-</text>
<text x="13.8" y="599.5" font-size="15" fill="#1e1e1e">wheel-RH (D257)</text>
<text x="631.2" y="600.0" font-size="15" fill="#1e1e1e">Clock spring (S227)</text>
<text x="631.2" y="709.0" font-size="15" fill="#1e1e1e">Sensor-Heated oxygen-</text>
<text x="631.2" y="724.5" font-size="15" fill="#1e1e1e">(HO2S)-Rear-RH (T184)</text>
<text x="631.2" y="866.7" font-size="15" fill="#1e1e1e">Sensor-Heated oxygen-</text>
<text x="631.2" y="882.2" font-size="15" fill="#1e1e1e">(HO2S)-Rear-LH (T185)</text>
<text x="109.3" y="71.3" font-size="12" fill="#3a3a3a">C0176-1</text>
<text x="109.3" y="102.6" font-size="12" fill="#3a3a3a">C0176-2</text>
<text x="457.5" y="71.3" font-size="12" fill="#3a3a3a">R,0.5</text>
<text x="457.5" y="102.6" font-size="12" fill="#3a3a3a">Y,0.5</text>
<text x="567" y="71.3" font-size="12" fill="#3a3a3a">C0634-34</text>
<text x="575.8" y="102.6" font-size="12" fill="#3a3a3a">C0634-7</text>
<text x="640.2" y="81" font-size="12" fill="#3a3a3a">CAM +</text>
<text x="641.5" y="112.5" font-size="12" fill="#3a3a3a">CAM -</text>
<text x="64.5" y="217.7" font-size="12" fill="#3a3a3a">C0506L-30</text>
<text x="143" y="217.7" font-size="12" fill="#3a3a3a">GP,0.5D</text>
<text x="256.3" y="217.7" font-size="12" fill="#3a3a3a">SJ882</text>
<text x="457.5" y="217.7" font-size="12" fill="#3a3a3a">GP,0.5D</text>
<text x="563.3" y="217.7" font-size="12" fill="#3a3a3a">C0635L-41</text>
<text x="637.5" y="227.7" font-size="12" fill="#3a3a3a">BRAKE SW</text>
<text x="317" y="248.3" font-size="12" fill="#3a3a3a">GP,0.5D</text>
<text x="62.5" y="311.5" font-size="12" fill="#3a3a3a">C0075L-1</text>
<text x="132.5" y="311.5" font-size="12" fill="#3a3a3a">GP,1.5D</text>
<text x="256.3" y="311.5" font-size="12" fill="#3a3a3a">SJ814</text>
<text x="317" y="311.5" font-size="12" fill="#3a3a3a">GP,1.0D</text>
<text x="415.0" y="311.5" font-size="12" fill="#3a3a3a">C2411L-2 C2412L-2</text>
<text x="65.5" y="417" font-size="12" fill="#3a3a3a">C0053-2</text>
<text x="65.5" y="448.3" font-size="12" fill="#3a3a3a">C0053-1</text>
<text x="457.5" y="417" font-size="12" fill="#3a3a3a">WU,1.0</text>
<text x="457.5" y="448.3" font-size="12" fill="#3a3a3a">WG,1.0</text>
<text x="567" y="417" font-size="12" fill="#3a3a3a">C0634-96</text>
<text x="570" y="448.3" font-size="12" fill="#3a3a3a">C0634-3</text>
<text x="636.3" y="426.5" font-size="12" fill="#3a3a3a">ALT_CONTROL</text>
<text x="636.3" y="457.8" font-size="12" fill="#3a3a3a">ALT_MONITOR</text>
<text x="68" y="615.7" font-size="12" fill="#3a3a3a">C2147-10</text>
<text x="65.5" y="647.3" font-size="12" fill="#3a3a3a">C2147-9</text>
<text x="78.6" y="699.6" font-size="12" fill="#3a3a3a">Resistive Ladder</text>
<text x="479.5" y="615.7" font-size="12" fill="#3a3a3a">R,0.35</text>
<text x="479.5" y="647.3" font-size="12" fill="#3a3a3a">N,0.35</text>
<text x="575.8" y="615.7" font-size="12" fill="#3a3a3a">C1254-4</text>
<text x="575.8" y="647.3" font-size="12" fill="#3a3a3a">C1254-1</text>
<text x="684.3" y="615.7" font-size="12" fill="#3a3a3a">C0082-5</text>
<text x="684.3" y="647.3" font-size="12" fill="#3a3a3a">C0082-8</text>
<text x="891.3" y="615.7" font-size="12" fill="#3a3a3a">PU,0.35D</text>
<text x="891.3" y="647.3" font-size="12" fill="#3a3a3a">R,0.35D</text>
<text x="751.4" y="70" font-size="12" fill="#3a3a3a">5V REF 1</text>
<text x="708.7" y="101.9" font-size="12" fill="#3a3a3a">PEDAL DEMAND 1</text>
<text x="770" y="132.9" font-size="12" fill="#3a3a3a">GND 1</text>
<text x="751.4" y="164.6" font-size="12" fill="#3a3a3a">5V REF 2</text>
<text x="703.8" y="195.8" font-size="12" fill="#3a3a3a">PEDAL DEMAND 2</text>
<text x="733.8" y="290.5" font-size="12" fill="#3a3a3a">HEGO B GND</text>
<text x="736.3" y="322" font-size="12" fill="#3a3a3a">HEGO B SIG</text>
<text x="734.5" y="353.2" font-size="12" fill="#3a3a3a">HEGO B HTR</text>
<text x="733.8" y="384.6" font-size="12" fill="#3a3a3a">HEGO A GND</text>
<text x="736.3" y="421.5" font-size="12" fill="#3a3a3a">HEGO A SIG</text>
<text x="734.5" y="447.7" font-size="12" fill="#3a3a3a">HEGO A HTR</text>
<text x="766.7" y="489.3" font-size="12" fill="#3a3a3a" text-anchor="middle">CRUISE SW -</text>
<text x="766.7" y="502.3" font-size="12" fill="#3a3a3a" text-anchor="middle">Silver</text>
<text x="766.7" y="531.1" font-size="12" fill="#3a3a3a" text-anchor="middle">CRUISE SW +</text>
<text x="766.7" y="544.1" font-size="12" fill="#3a3a3a" text-anchor="middle">Silver</text>
<text x="823.8" y="60.5" font-size="12" fill="#3a3a3a">C0635L-32</text>
<text x="913.3" y="60.5" font-size="12" fill="#3a3a3a">R,0.5D</text>
<text x="1036.3" y="60.5" font-size="12" fill="#3a3a3a">C2244L-15 C2242L-15</text>
<text x="1194.5" y="60.5" font-size="12" fill="#3a3a3a">R,0.5D</text>
<text x="1309.3" y="60.5" font-size="12" fill="#3a3a3a">C0787L-7</text>
<text x="823.8" y="92.0" font-size="12" fill="#3a3a3a">C0635L-24</text>
<text x="913.3" y="92.0" font-size="12" fill="#3a3a3a">YR,MAPRR</text>
<text x="1036.3" y="92.0" font-size="12" fill="#3a3a3a">C2244L-16 C2242L-16</text>
<text x="1194.5" y="92.0" font-size="12" fill="#3a3a3a">YLG,MAPBT</text>
<text x="1309.3" y="92.0" font-size="12" fill="#3a3a3a">C0787L-2</text>
<text x="827" y="123.4" font-size="12" fill="#3a3a3a">C0635L-7</text>
<text x="913.3" y="123.4" font-size="12" fill="#3a3a3a">RB,MAPRR</text>
<text x="1036.3" y="123.4" font-size="12" fill="#3a3a3a">C2244L-17 C2242L-17</text>
<text x="1194.5" y="123.4" font-size="12" fill="#3a3a3a">RB,MAPBT</text>
<text x="1309.3" y="123.4" font-size="12" fill="#3a3a3a">C0787L-1</text>
<text x="823.8" y="154.9" font-size="12" fill="#3a3a3a">C0635L-19</text>
<text x="913.3" y="154.9" font-size="12" fill="#3a3a3a">OY,0.5D</text>
<text x="1036.3" y="154.9" font-size="12" fill="#3a3a3a">C2244L-18 C2242L-18</text>
<text x="1194.5" y="154.9" font-size="12" fill="#3a3a3a">OY,0.5D</text>
<text x="1309.3" y="154.9" font-size="12" fill="#3a3a3a">C0787L-6</text>
<text x="823.8" y="186.4" font-size="12" fill="#3a3a3a">C0635L-38</text>
<text x="913.3" y="186.4" font-size="12" fill="#3a3a3a">BG,MAPQQ</text>
<text x="1036.3" y="186.4" font-size="12" fill="#3a3a3a">C2244L-21 C2242L-21</text>
<text x="1194.5" y="186.4" font-size="12" fill="#3a3a3a">U,0.5D</text>
<text x="1309.3" y="186.4" font-size="12" fill="#3a3a3a">C0787L-5</text>
<text x="913.3" y="217.9" font-size="12" fill="#3a3a3a">U,MAPQQ</text>
<text x="1036.3" y="217.9" font-size="12" fill="#3a3a3a">C2244L-22 C2242L-22</text>
<text x="1194.5" y="217.9" font-size="12" fill="#3a3a3a">BG,0.5D</text>
<text x="1309.3" y="217.9" font-size="12" fill="#3a3a3a">C0787L-3</text>
<text x="823.8" y="280.7" font-size="12" fill="#3a3a3a">C0635L-34</text>
<text x="913.3" y="280.7" font-size="12" fill="#3a3a3a">WU,MAPAJ</text>
<text x="823.8" y="312.1" font-size="12" fill="#3a3a3a">C0635L-26</text>
<text x="913.3" y="312.1" font-size="12" fill="#3a3a3a">RB,MAPAJ</text>
<text x="823.8" y="343.4" font-size="12" fill="#3a3a3a">C0635L-47</text>
<text x="913.3" y="343.4" font-size="12" fill="#3a3a3a">G,0.75D</text>
<text x="1042.5" y="343.4" font-size="12" fill="#3a3a3a">C2373L-2 C2374A-2</text>
<text x="823.8" y="374.8" font-size="12" fill="#3a3a3a">C0635L-22</text>
<text x="913.3" y="374.8" font-size="12" fill="#3a3a3a">U,MAPAH</text>
<text x="823.8" y="406.4" font-size="12" fill="#3a3a3a">C0635L-25</text>
<text x="913.3" y="406.4" font-size="12" fill="#3a3a3a">RB,MAPAH</text>
<text x="823.8" y="437.9" font-size="12" fill="#3a3a3a">C0635L-46</text>
<text x="913.3" y="437.9" font-size="12" fill="#3a3a3a">WO,0.5D</text>
<text x="1042.5" y="437.9" font-size="12" fill="#3a3a3a">C2373L-5 C2374A-5</text>
<text x="823.8" y="479.6" font-size="12" fill="#3a3a3a">C0635L-35</text>
<text x="913.3" y="479.6" font-size="12" fill="#3a3a3a">R,0.5D</text>
<text x="1085" y="468.8" font-size="12" fill="#3a3a3a">Gold</text>
<text x="1039.5" y="479.2" font-size="12" fill="#3a3a3a">C2240L-21 C2238-21</text>
<text x="823.8" y="521.2" font-size="12" fill="#3a3a3a">C0635L-36</text>
<text x="913.3" y="521.2" font-size="12" fill="#3a3a3a">PU,0.5D</text>
<text x="1085" y="510.2" font-size="12" fill="#3a3a3a">Gold</text>
<text x="1039.5" y="520.8000000000001" font-size="12" fill="#3a3a3a">C2240L-22 C2238-22</text>
<text x="1560" y="248.4" font-size="11.5" fill="#3a3a3a">P</text>
<text x="1545" y="275" font-size="11.5" fill="#3a3a3a">Sheet4</text>
<text x="30.5" y="741.3" font-size="11.5" fill="#3a3a3a">G</text>
<text x="15.8" y="767.8" font-size="11.5" fill="#3a3a3a">Sheet1</text>
<text x="316.5" y="741.3" font-size="12" fill="#3a3a3a">NK,2.5H</text>
<text x="415.7" y="741.3" font-size="12" fill="#3a3a3a">SJ1444</text>
<text x="479.9" y="741.3" font-size="12" fill="#3a3a3a">NK,1.5H</text>
<text x="575.7" y="741.3" font-size="12" fill="#3a3a3a">C0642-1</text>
<text x="489.8" y="898.3" font-size="12" fill="#3a3a3a">NK,1.5H</text>
<text x="575.7" y="898.3" font-size="12" fill="#3a3a3a">C0643-1</text>
<text x="728" y="741.5" font-size="12" fill="#3a3a3a">C0642-2</text>
<text x="728" y="773.1" font-size="12" fill="#3a3a3a">C0642-4</text>
<text x="728" y="804.3" font-size="12" fill="#3a3a3a">C0642-3</text>
<text x="728" y="898.3" font-size="12" fill="#3a3a3a">C0643-2</text>
<text x="728" y="929.8" font-size="12" fill="#3a3a3a">C0643-4</text>
<text x="728" y="961.1" font-size="12" fill="#3a3a3a">C0643-3</text>
<text x="815" y="741.5" font-size="12" fill="#3a3a3a">WO,0.5H</text>
<text x="815" y="773.1" font-size="12" fill="#3a3a3a">RB,0.5H</text>
<text x="815" y="804.3" font-size="12" fill="#3a3a3a">U,0.5H</text>
<text x="815" y="898.3" font-size="12" fill="#3a3a3a">G,0.5H</text>
<text x="815" y="929.8" font-size="12" fill="#3a3a3a">RB,0.5H</text>
<text x="815" y="961.1" font-size="12" fill="#3a3a3a">WU,0.5H</text>
<text x="1042.6" y="773.1" font-size="12" fill="#3a3a3a">C2374A-4 C2373L-4</text>
<text x="1042.6" y="804.3" font-size="12" fill="#3a3a3a">C2374A-3 C2373L-3</text>
<text x="1042.6" y="929.8" font-size="12" fill="#3a3a3a">C2374A-1 C2373L-1</text>
<text x="1042.6" y="961.1" font-size="12" fill="#3a3a3a">C2374A-7 C2373L-7</text>
</svg>
</body></html>
